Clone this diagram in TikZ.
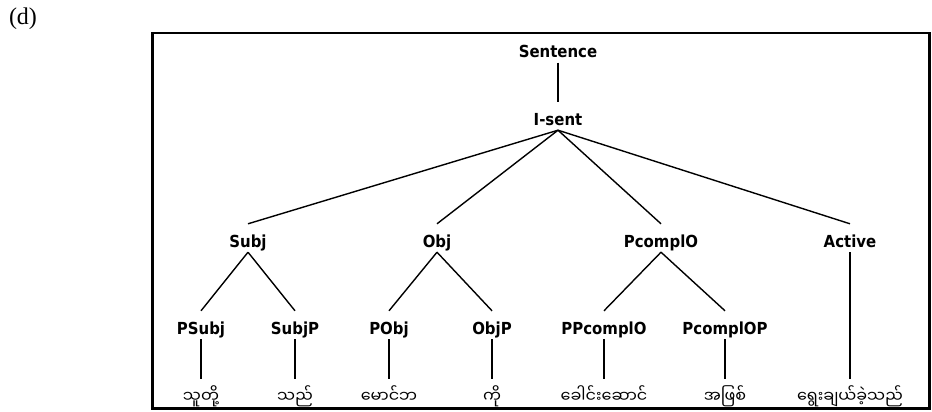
\documentclass[tikz,border=0pt]{standalone}
\usepackage{fontspec}
\setmainfont{Liberation Serif}
\newfontfamily\treefont{DejaVu Sans Condensed}
\newfontfamily\mmfont[Script=Myanmar]{Noto Sans Myanmar UI}

\begin{document}
\begin{tikzpicture}[x=1pt, y=-1pt,
  lab/.style={anchor=base, inner sep=0pt, text height=23pt, text depth=5pt,
    font=\treefont\bfseries\fontsize{16.6}{18}\selectfont},
  word/.style={lab, font=\mmfont\fontsize{16}{20}\selectfont},
  edge/.style={line width=1.4pt}]
\useasboundingbox (0,0) rectangle (932,412);
\node [font=\fontsize{24}{26}\selectfont] (tag) at (23,19) {(d)};
\draw [line width=2.6pt] (152.5,33) rectangle (929.5,408.5);
% categories
\node [lab] (sent) at (558,57.5) {Sentence};
\node [lab] (isent) at (558,125) {I-sent};
\node [lab] (subj) at (248,247) {Subj};
\node [lab] (obj) at (437,247) {Obj};
\node [lab] (pcompl) at (661,247) {PcomplO};
\node [lab] (active) at (850,247) {Active};
\node [lab] (psubj) at (201,334) {PSubj};
\node [lab] (subjp) at (295,334) {SubjP};
\node [lab] (pobj) at (389,334) {PObj};
\node [lab] (objp) at (492,334) {ObjP};
\node [lab] (ppcompl) at (604,334) {PPcomplO};
\node [lab] (pcomplp) at (725,334) {PcomplOP};
% words
\node [word] (w1) at (201,402) {သူတို့};
\node [word] (w2) at (295,402) {သည်};
\node [word] (w3) at (389,402) {မောင်ဘ};
\node [word] (w4) at (492,402) {ကို};
\node [word] (w5) at (604,402) {ခေါင်းဆောင်};
\node [word] (w6) at (725,402) {အဖြစ်};
\node [word] (w7) at (850,402) {ရွေးချယ်ခဲ့သည်};
% edges
\foreach \a/\b in {sent/isent, isent/subj, isent/obj, isent/pcompl, isent/active,
  subj/psubj, subj/subjp, obj/pobj, obj/objp, pcompl/ppcompl, pcompl/pcomplp,
  psubj/w1, subjp/w2, pobj/w3, objp/w4, ppcompl/w5, pcomplp/w6, active/w7}
  \draw [edge] (\a.south) -- (\b.north);
\end{tikzpicture}
\end{document}
